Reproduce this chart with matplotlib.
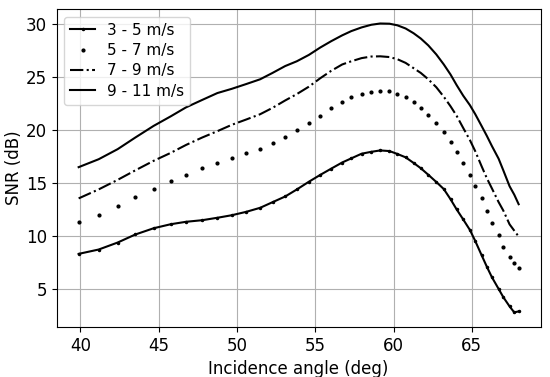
import matplotlib
matplotlib.use("Agg")
import matplotlib.pyplot as plt

# incidence angle (deg), same sampling for every wind speed bin
angle = [39.89, 41.17, 42.38, 43.51, 44.68, 45.77, 46.75, 47.78, 48.75, 49.67,
         50.59, 51.48, 52.27, 53.08, 53.82, 54.59, 55.32, 56.02, 56.72, 57.30,
         57.96, 58.58, 59.15, 59.74, 60.24, 60.77, 61.28, 61.74, 62.22, 62.73,
         63.21, 63.64, 64.03, 64.45, 64.88, 65.22, 65.62, 65.96, 66.28, 66.71,
         67.01, 67.41, 67.71, 67.99]

# SNR (dB) per wind speed bin
snr_3_5 = [8.31, 8.72, 9.38, 10.14, 10.73, 11.11, 11.34, 11.49, 11.72, 11.96,
           12.28, 12.66, 13.19, 13.73, 14.39, 15.12, 15.77, 16.36, 16.94, 17.33,
           17.77, 17.95, 18.08, 18.02, 17.75, 17.43, 16.90, 16.40, 15.78, 15.10,
           14.43, 13.47, 12.51, 11.56, 10.56, 9.52, 8.20, 7.09, 6.11, 5.00,
           4.22, 3.35, 2.78, 2.88]
snr_5_7 = [11.30, 11.99, 12.81, 13.64, 14.42, 15.15, 15.78, 16.41, 16.88, 17.35,
           17.80, 18.24, 18.74, 19.31, 19.97, 20.70, 21.36, 22.05, 22.69, 23.09,
           23.45, 23.63, 23.73, 23.69, 23.45, 23.09, 22.69, 22.08, 21.39, 20.70,
           19.85, 18.90, 17.94, 16.88, 15.78, 14.68, 13.54, 12.38, 11.27, 10.11,
           9.00, 8.03, 7.42, 7.01]
snr_7_9 = [13.55, 14.40, 15.30, 16.20, 17.10, 17.85, 18.60, 19.30, 19.90, 20.50,
           21.00, 21.50, 22.10, 22.80, 23.40, 24.10, 24.90, 25.60, 26.20, 26.50,
           26.80, 26.95, 26.97, 26.90, 26.70, 26.35, 25.85, 25.40, 24.80, 24.05,
           23.15, 22.25, 21.35, 20.20, 19.05, 18.00, 16.60, 15.45, 14.50, 13.20,
           12.40, 11.10, 10.50, 9.95]
snr_9_11 = [16.50, 17.25, 18.20, 19.30, 20.40, 21.30, 22.15, 22.85, 23.50, 23.90,
            24.35, 24.80, 25.40, 26.05, 26.50, 27.10, 27.80, 28.40, 28.95, 29.35,
            29.70, 29.95, 30.07, 30.05, 29.90, 29.60, 29.15, 28.65, 28.00, 27.15,
            26.20, 25.25, 24.25, 23.25, 22.35, 21.50, 20.40, 19.45, 18.50, 17.30,
            16.20, 14.70, 13.90, 13.00]

plt.rcParams["font.size"] = 12

fig, ax = plt.subplots(figsize=(5.5, 3.77), dpi=100)
fig.subplots_adjust(left=0.103, right=0.983, bottom=0.133, top=0.976)

ax.plot(angle, snr_3_5, color="black", lw=1.5, marker=".", ms=3, label="3 - 5 m/s")
ax.plot(angle, snr_5_7, color="black", ls="none", marker=".", ms=4, label="5 - 7 m/s")
ax.plot(angle, snr_7_9, color="black", lw=1.5, ls="-.", label="7 - 9 m/s")
ax.plot(angle, snr_9_11, color="black", lw=1.5, label="9 - 11 m/s")

ax.set_xlabel("Incidence angle (deg)")
ax.set_ylabel("SNR (dB)", labelpad=2)
ax.set_xticks([40, 45, 50, 55, 60, 65])
ax.set_yticks([5, 10, 15, 20, 25, 30])
ax.grid(True)
ax.legend(loc="upper left", fontsize=11, handlelength=1.6, labelspacing=0.35)

fig.savefig("out.png")
